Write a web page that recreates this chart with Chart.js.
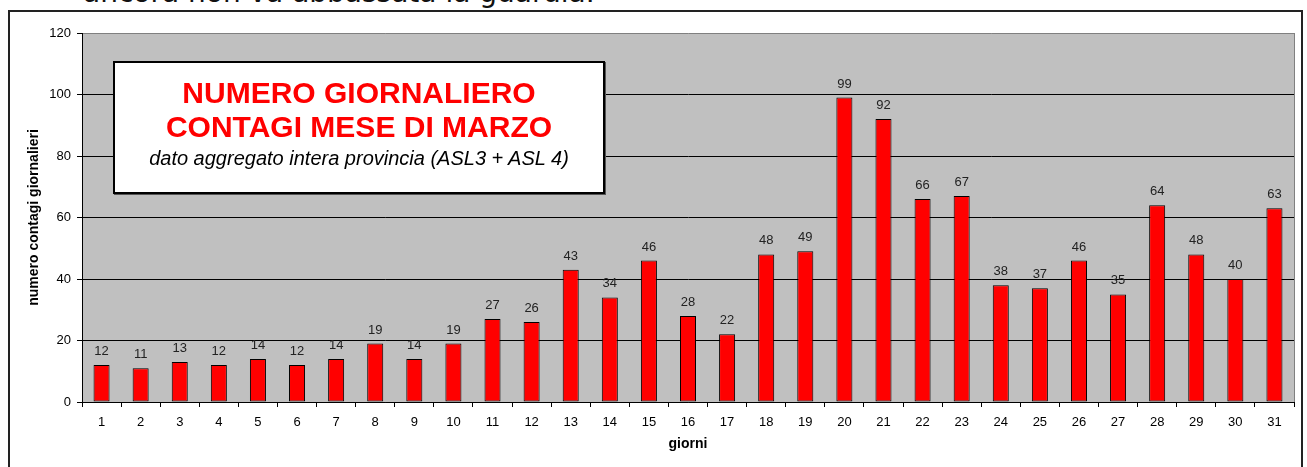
<!DOCTYPE html>
<html>
<head>
<meta charset="utf-8">
<script src="https://cdn.jsdelivr.net/npm/chart.js@4.4.1/dist/chart.umd.min.js"></script>
<style>
    html, body { margin: 0; padding: 0; background: #fff; overflow: hidden; }
    #wrap { position: relative; width: 1307px; height: 467px; }
    #frase {
        position: absolute; left: 83px; top: -21px; line-height: 28px;
        font-family: "DejaVu Sans", Verdana, sans-serif; font-size: 28px; color: #111; white-space: nowrap;
    }
    #cornice {
        position: absolute; left: 8px; top: 10px; width: 1291px; height: 470px;
        border: 2px solid #222;
    }
    #grafico { position: absolute; left: 0; top: 0; }
    #titolo {
        position: absolute; left: 113px; top: 61px; width: 488px; height: 129px;
        border: 2px solid #000; background: #fff; box-shadow: 1px 1px 0 #555;
        text-align: center; font-family: "Liberation Sans", Arial, sans-serif;
        box-sizing: content-box;
    }
    #titolo .t1 { color: #ff0000; font-weight: bold; font-size: 30px; line-height: 34px; margin-top: 13px; }
    #titolo .t2 { color: #000; font-style: italic; font-size: 20px; line-height: 29px; }
</style>
</head>
<body>
<div id="wrap">
    <div id="frase">ancora non va abbassata la guardia.</div>
    <div id="cornice"></div>
    <canvas id="grafico" width="1307" height="467"></canvas>
    <div id="titolo">
        <div class="t1">NUMERO GIORNALIERO<br>CONTAGI MESE DI MARZO</div>
        <div class="t2">dato aggregato intera provincia (ASL3 + ASL 4)</div>
    </div>
</div>
<script>
// Dati: contagi giornalieri di marzo
const giorni = ['1','2','3','4','5','6','7','8','9','10','11','12','13','14','15','16',
                '17','18','19','20','21','22','23','24','25','26','27','28','29','30','31'];
const contagi = [12, 11, 13, 12, 14, 12, 14, 19, 14, 19, 27, 26, 43, 34, 46, 28,
                 22, 48, 49, 99, 92, 66, 67, 38, 37, 46, 35, 64, 48, 40, 63];
const tickY = [0, 20, 40, 60, 80, 100, 120];

const FONT = '"Liberation Sans", Arial, sans-serif';

// Sfondo grigio dell'area del grafico
const sfondoPlugin = {
    id: 'sfondo',
    beforeDraw(chart) {
        const { ctx, chartArea: a } = chart;
        ctx.save();
        ctx.fillStyle = '#c0c0c0';
        ctx.fillRect(a.left, a.top, a.right - a.left, a.bottom - a.top);
        ctx.strokeStyle = '#808080';
        ctx.lineWidth = 1;
        ctx.beginPath();
        ctx.moveTo(a.right + 0.5, a.top);
        ctx.lineTo(a.right + 0.5, a.bottom);
        ctx.stroke();
        ctx.restore();
    }
};

// Etichette dei valori sopra le barre
const etichettePlugin = {
    id: 'etichette',
    afterDatasetsDraw(chart) {
        const { ctx } = chart;
        const meta = chart.getDatasetMeta(0);
        ctx.save();
        ctx.font = '13px ' + FONT;
        ctx.fillStyle = '#222';
        ctx.textAlign = 'center';
        ctx.textBaseline = 'alphabetic';
        meta.data.forEach((bar, i) => {
            ctx.fillText(String(contagi[i]), bar.x, bar.y - 10);
        });
        ctx.restore();
    }
};

new Chart(document.getElementById('grafico').getContext('2d'), {
    type: 'bar',
    data: {
        labels: giorni,
        datasets: [{
            data: contagi,
            backgroundColor: '#ff0000',
            borderColor: '#000',
            borderWidth: 1,
            borderSkipped: false,
            categoryPercentage: 1.0,
            barPercentage: 0.41
        }]
    },
    options: {
        responsive: false,
        animation: false,
        layout: { padding: { left: 10, right: 13, top: 33, bottom: 0 } },
        plugins: {
            legend: { display: false },
            tooltip: { enabled: false }
        },
        scales: {
            x: {
                offset: true,
                grid: { display: true, drawOnChartArea: false, tickLength: 5, color: '#000', offset: true },
                border: { display: true, color: '#000', width: 1 },
                ticks: { color: '#000', font: { family: FONT, size: 13 }, padding: 8, maxRotation: 0, autoSkip: false },
                title: {
                    display: true, text: 'giorni', color: '#000',
                    font: { family: FONT, size: 14, weight: 'bold' },
                    padding: { top: 4, bottom: 14 }
                },
                afterFit(scale) { scale.height = 65; }
            },
            y: {
                min: 0,
                max: 120,
                afterBuildTicks(scale) { scale.ticks = tickY.map(v => ({ value: v })); },
                grid: {
                    color: c => (c.tick && c.tick.value === 120) ? '#808080' : '#000',
                    tickColor: '#000',
                    tickLength: 5
                },
                border: { display: true, color: '#000', width: 1 },
                ticks: { color: '#000', font: { family: FONT, size: 13 }, padding: 6 },
                title: {
                    display: true, text: 'numero contagi giornalieri', color: '#000',
                    font: { family: FONT, size: 14, weight: 'bold' },
                    padding: { top: 16, bottom: 0 }
                },
                afterFit(scale) { scale.width = 72; }
            }
        }
    },
    plugins: [sfondoPlugin, etichettePlugin]
});
</script>
</body>
</html>
